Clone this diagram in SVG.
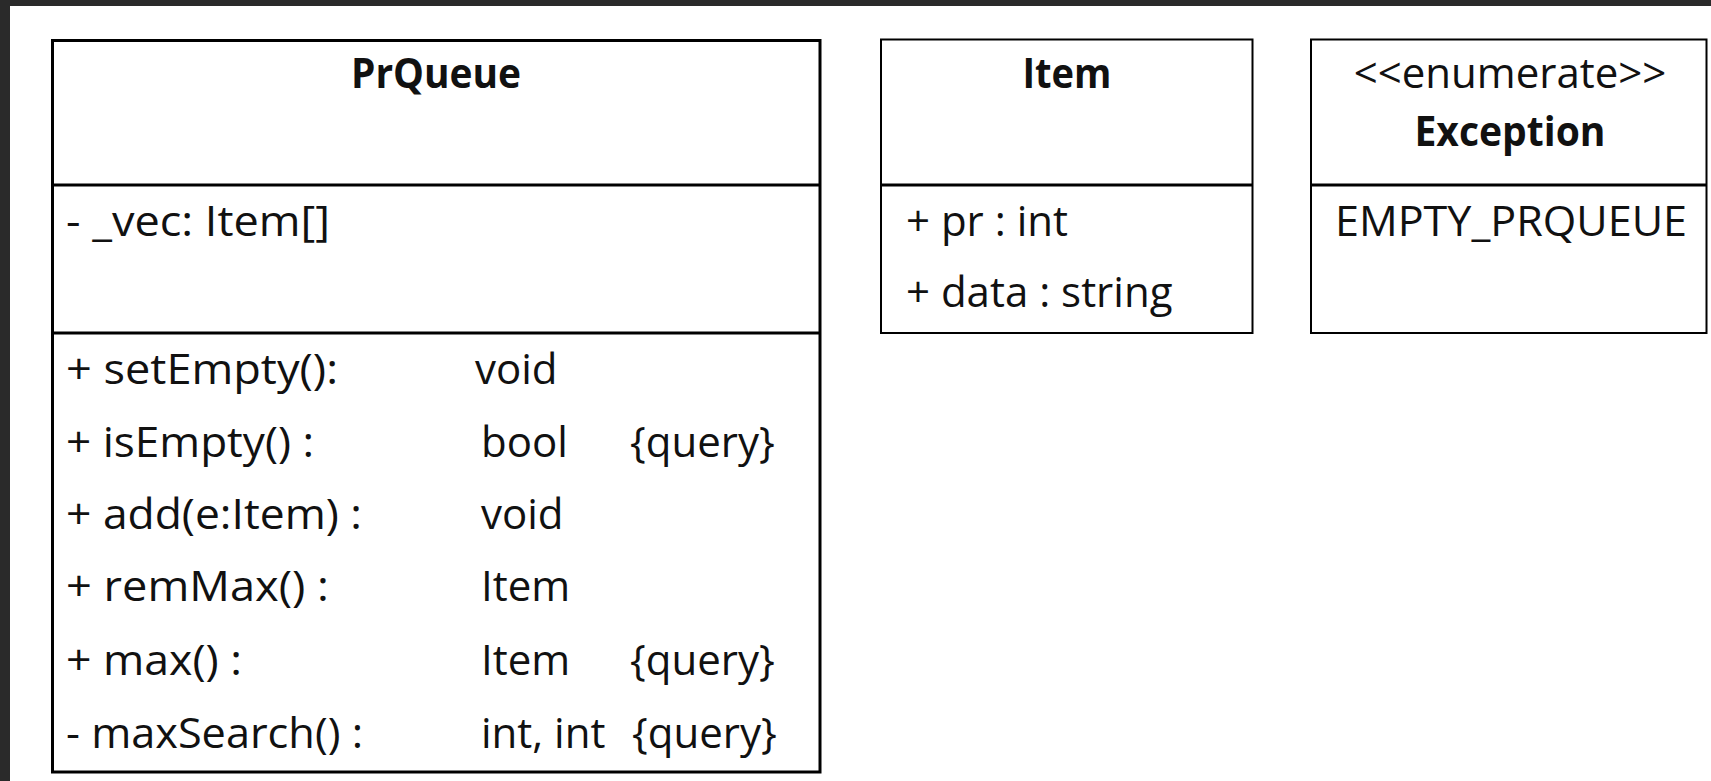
<svg xmlns="http://www.w3.org/2000/svg" width="1711" height="781" viewBox="0 0 1711 781">
<style>
.frame{fill:#ffffff;stroke:#000000;stroke-width:2}
.thick{fill:#ffffff;stroke:#000000;stroke-width:3}
.div{stroke:#000000;stroke-width:3}
text{font-family:"Open Sans","Liberation Sans",sans-serif;font-size:42px;fill:#111111}
.title{font-weight:bold;text-anchor:middle}
.mid{text-anchor:middle}
</style>
<rect x="0" y="0" width="1711" height="781" fill="#2a2a2a"/>
<rect x="10" y="6" width="1701" height="775" fill="#ffffff"/>
<g id="PrQueue">
<rect class="thick" x="52.5" y="40.5" width="767.5" height="731.5"/>
<line class="div" x1="52.5" y1="185" x2="820" y2="185"/>
<line class="div" x1="52.5" y1="333" x2="820" y2="333"/>
<text class="title" x="436" y="88" textLength="170" lengthAdjust="spacingAndGlyphs">PrQueue</text>
<text x="66" y="236" textLength="264" lengthAdjust="spacingAndGlyphs">- _vec: Item[]</text>
<text x="66" y="384" textLength="272" lengthAdjust="spacingAndGlyphs">+ setEmpty():</text>
<text x="475" y="384">void</text>
<text x="66" y="457" textLength="248" lengthAdjust="spacingAndGlyphs">+ isEmpty() :</text>
<text x="481" y="457">bool</text>
<text x="630" y="457">{query}</text>
<text x="66" y="529" textLength="296" lengthAdjust="spacingAndGlyphs">+ add(e:Item) :</text>
<text x="481" y="529">void</text>
<text x="66" y="601" textLength="263" lengthAdjust="spacingAndGlyphs">+ remMax() :</text>
<text x="481" y="601">Item</text>
<text x="66" y="675" textLength="176" lengthAdjust="spacingAndGlyphs">+ max() :</text>
<text x="481" y="675">Item</text>
<text x="630" y="675">{query}</text>
<text x="66" y="748" textLength="297" lengthAdjust="spacingAndGlyphs">- maxSearch() :</text>
<text x="481" y="748">int, int</text>
<text x="632" y="748">{query}</text>
</g>
<g id="Item">
<rect class="frame" x="881" y="39.5" width="371.5" height="293.5"/>
<line class="div" x1="881" y1="185" x2="1252.5" y2="185"/>
<text class="title" x="1067" y="88" textLength="89" lengthAdjust="spacingAndGlyphs">Item</text>
<text x="906" y="236">+ pr : int</text>
<text x="906" y="307">+ data : string</text>
</g>
<g id="Exception">
<rect class="frame" x="1311" y="39.5" width="395.5" height="293.5"/>
<line class="div" x1="1311" y1="185" x2="1706.5" y2="185"/>
<text class="mid" x="1510" y="88">&lt;&lt;enumerate&gt;&gt;</text>
<text class="title" x="1510" y="146" textLength="191" lengthAdjust="spacingAndGlyphs">Exception</text>
<text x="1335" y="236" textLength="352" lengthAdjust="spacingAndGlyphs">EMPTY_PRQUEUE</text>
</g>
<g id="connectors"></g>
</svg>
